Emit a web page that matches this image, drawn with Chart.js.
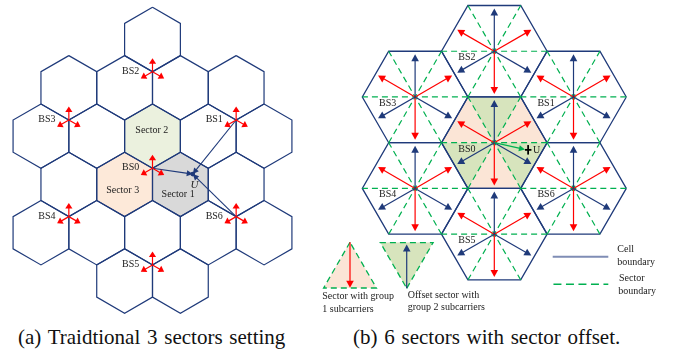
<!DOCTYPE html>
<html>
<head>
<meta charset="utf-8">
<script src="https://cdn.jsdelivr.net/npm/chart.js@4.4.1/dist/chart.umd.min.js"></script>
<style>
  html, body { margin: 0; padding: 0; background: #fff; width: 678px; height: 354px; overflow: hidden; }
  #wrapA { position: absolute; left: 0; top: 0; width: 300px; height: 320px; }
  #wrapB { position: absolute; left: 300px; top: 0; width: 378px; height: 320px; }
  .cap { position: absolute; top: 327px; font-family: 'Liberation Serif', 'Times New Roman', serif;
         font-size: 21px; line-height: 21px; white-space: pre; color: #111; word-spacing: 1.5px; }
</style>
</head>
<body>
<div id="wrapA"><canvas id="chartA"></canvas></div>
<div id="wrapB"><canvas id="chartB"></canvas></div>
<div class="cap" style="left:18px">(a) Traidtional 3 sectors setting</div>
<div class="cap" style="left:353px">(b) 6 sectors with sector offset.</div>
<script>
// ---------- (a) traditional 3-sector layout (pointy-top cells, unit = cell radius) ----------
// cells as [half-column, row]
const cellsA = [
  [0, 0],
  [-3, 1], [-1, 1], [1, 1], [3, 1],
  [-4, 2], [-2, 2], [0, 2], [2, 2], [4, 2],
  [-3, 3], [-1, 3], [1, 3], [3, 3],
  [-4, 4], [-2, 4], [0, 4], [2, 4], [4, 4],
  [-1, 5], [1, 5]
];
const stationNamesA = ['BS0', 'BS1', 'BS2', 'BS3', 'BS4', 'BS5', 'BS6'];
// each base station sits on the bottom corner of this cell
const stationCellsA = [[0, 2], [3, 1], [0, 0], [-3, 1], [-3, 3], [0, 4], [3, 3]];
const sectorNamesA = ['Sector 1', 'Sector 2', 'Sector 3'];
const sectorCellsA = [[1, 3], [0, 2], [-1, 3]];
const antennaDirsA = [90, 210, 330];          // degrees
const userA = [1.25, 1.18];
const userLinksA = ['BS0', 'BS1', 'BS6'];

// ---------- (b) 6 sectors with offset (flat-top cells, unit = cell radius) ----------
const stationNamesB = ['BS0', 'BS1', 'BS2', 'BS3', 'BS4', 'BS5', 'BS6'];
const stationCellsB = [[0, 0], [1, -1], [0, -1], [-1, 0], [-1, 1], [0, 1], [1, 0]]; // axial [q, r]
const group1DirsB = [30, 150, 270];           // sectors with group 1 subcarriers
const group2DirsB = [90, 210, 330];           // offset sectors with group 2 subcarriers
const userB = [0.58, 0.13];
const legendTextsB = [
  ['Sector with group', '1 subcarriers'],
  ['Offset sector with', 'group 2 subcarriers'],
  ['Cell', 'boundary'],
  ['Sector', 'boundary']
];

// ---------- styles ----------
const SQ3 = Math.sqrt(3);
const NAVY = '#1f3a7a', RED = '#ff0000', GREEN = '#00b050', INK = '#222';
const SERIF = "'Liberation Serif','Times New Roman',serif";
const SECTOR_FILL_A = { 'Sector 1': '#d9d9d9', 'Sector 2': '#ebf1de', 'Sector 3': '#fde9d9' };
const FILL_G1 = '#fbe5d6', FILL_G2 = '#d7e4bd';

// ---------- geometry helpers ----------
const rad = d => d * Math.PI / 180;
const centerA = ([c, r]) => ({ x: c * SQ3 / 2, y: (r - 2) * 1.5 });
const stationA = cell => { const c = centerA(cell); return { x: c.x, y: c.y + 1 }; };
const centerB = ([q, r]) => ({ x: 1.5 * q, y: SQ3 * (r + q / 2) });
function hexPointy(c) {
  const pts = [];
  for (let k = 0; k <= 6; k++) { const a = rad(60 * k - 90); pts.push({ x: c.x + Math.cos(a), y: c.y + Math.sin(a) }); }
  return pts;
}
function hexFlat(c) {
  const pts = [];
  for (let k = 0; k <= 6; k++) { const a = rad(60 * k); pts.push({ x: c.x + Math.cos(a), y: c.y + Math.sin(a) }); }
  return pts;
}
// direction in degrees (counter-clockwise, y axis drawn downward)
const toward = (p, deg, len) => ({ x: p.x + len * Math.cos(rad(deg)), y: p.y - len * Math.sin(rad(deg)) });

function px(chart, p) { return [chart.scales.x.getPixelForValue(p.x), chart.scales.y.getPixelForValue(p.y)]; }
function fillPoly(chart, pts, color) {
  const ctx = chart.ctx;
  ctx.save(); ctx.fillStyle = color; ctx.beginPath();
  pts.forEach((p, i) => { const [x, y] = px(chart, p); i ? ctx.lineTo(x, y) : ctx.moveTo(x, y); });
  ctx.closePath(); ctx.fill(); ctx.restore();
}
function strokePoly(chart, pts, color, lw, dash, close) {
  const ctx = chart.ctx;
  ctx.save(); ctx.strokeStyle = color; ctx.lineWidth = lw; ctx.setLineDash(dash || []); ctx.beginPath();
  pts.forEach((p, i) => { const [x, y] = px(chart, p); i ? ctx.lineTo(x, y) : ctx.moveTo(x, y); });
  if (close) ctx.closePath();
  ctx.stroke(); ctx.restore();
}
function arrow(chart, from, to, color, lw, hl, hw) {
  const ctx = chart.ctx;
  const [x1, y1] = px(chart, from), [x2, y2] = px(chart, to);
  const dx = x2 - x1, dy = y2 - y1, L = Math.hypot(dx, dy), ux = dx / L, uy = dy / L;
  const bx = x2 - ux * hl, by = y2 - uy * hl;
  ctx.save(); ctx.strokeStyle = color; ctx.fillStyle = color; ctx.lineWidth = lw; ctx.setLineDash([]);
  ctx.beginPath(); ctx.moveTo(x1, y1); ctx.lineTo(bx + ux, by + uy); ctx.stroke();
  ctx.beginPath(); ctx.moveTo(x2, y2); ctx.lineTo(bx - uy * hw, by + ux * hw); ctx.lineTo(bx + uy * hw, by - ux * hw);
  ctx.closePath(); ctx.fill(); ctx.restore();
}
function text(chart, str, p, opts) {
  const ctx = chart.ctx; const [x, y] = px(chart, p);
  ctx.save(); ctx.font = (opts && opts.font) || ('10px ' + SERIF); ctx.fillStyle = INK;
  ctx.textAlign = (opts && opts.align) || 'center'; ctx.textBaseline = 'middle';
  ctx.fillText(str, x, y); ctx.restore();
}
const lineDs = (pts, color, width, dash) => ({
  data: pts, showLine: true, pointRadius: 0, borderColor: color, borderWidth: width,
  borderDash: dash || [], fill: false, tension: 0, clip: false
});
const baseOptions = (xr, yr) => ({
  responsive: true, maintainAspectRatio: false, animation: false, events: [],
  layout: { padding: 0 },
  plugins: { legend: { display: false }, tooltip: { enabled: false }, title: { display: false } },
  scales: {
    x: { type: 'linear', min: xr[0], max: xr[1], display: false },
    y: { type: 'linear', min: yr[0], max: yr[1], reverse: true, display: false }
  }
});

// ---------- chart (a) ----------
const stationPosA = {};
stationNamesA.forEach((n, i) => { stationPosA[n] = stationA(stationCellsA[i]); });
const sectorOffsetsA = { 'Sector 1': [-0.07, 0.30], 'Sector 2': [-0.02, -0.17], 'Sector 3': [-0.06, 0.17] };

const layerA = {
  id: 'layerA',
  beforeDatasetsDraw(chart) {
    sectorNamesA.forEach((n, i) => fillPoly(chart, hexPointy(centerA(sectorCellsA[i])), SECTOR_FILL_A[n]));
  },
  afterDatasetsDraw(chart) {
    const ctx = chart.ctx;
    const u = { x: userA[0], y: userA[1] };
    // serving and interfering links towards U
    userLinksA.forEach(n => arrow(chart, stationPosA[n], u, NAVY, 1.1, 6, 3));
    const [ux, uy] = px(chart, u);
    ctx.save(); ctx.fillStyle = NAVY; ctx.beginPath(); ctx.arc(ux, uy, 2.4, 0, Math.PI * 2); ctx.fill(); ctx.restore();
    text(chart, 'U', { x: u.x + 0.05, y: u.y + 0.34 }, { font: 'italic 11px ' + SERIF });
    // antenna directions at each site
    stationNamesA.forEach(n => {
      const s = stationPosA[n];
      antennaDirsA.forEach(d => arrow(chart, s, toward(s, d, 0.42), RED, 1.2, 5.5, 3.6));
      text(chart, n, { x: s.x - 0.68, y: s.y - 0.02 });
    });
    sectorNamesA.forEach((n, i) => {
      const c = centerA(sectorCellsA[i]);
      text(chart, n, { x: c.x + sectorOffsetsA[n][0], y: c.y + sectorOffsetsA[n][1] });
    });
  }
};

new Chart(document.getElementById('chartA'), {
  type: 'scatter',
  data: { datasets: cellsA.map(c => lineDs(hexPointy(centerA(c)), NAVY, 1.2)) },
  options: baseOptions([-4.736, 4.581], [-4.227, 5.711]),
  plugins: [layerA]
});

// ---------- chart (b) ----------
const stationPosB = {};
stationNamesB.forEach((n, i) => { stationPosB[n] = centerB(stationCellsB[i]); });
const sectorTri = (c, midDeg) => [c, toward(c, midDeg - 30, 1), toward(c, midDeg + 30, 1)];

const cellDatasetsB = [];
stationCellsB.forEach(cell => {
  const c = centerB(cell);
  const v = hexFlat(c);
  for (let k = 0; k < 3; k++) cellDatasetsB.push(lineDs([v[k], v[k + 3]], GREEN, 1.2, [6, 4]));
});
stationCellsB.forEach(cell => cellDatasetsB.push(lineDs(hexFlat(centerB(cell)), NAVY, 1.3)));

const layerB = {
  id: 'layerB',
  beforeDatasetsDraw(chart) {
    const c0 = stationPosB['BS0'];
    group1DirsB.forEach(d => fillPoly(chart, sectorTri(c0, d), FILL_G1));
    group2DirsB.forEach(d => fillPoly(chart, sectorTri(c0, d), FILL_G2));
  },
  afterDatasetsDraw(chart) {
    const ctx = chart.ctx;
    stationNamesB.forEach(n => {
      const s = stationPosB[n];
      group1DirsB.forEach(d => arrow(chart, s, toward(s, d, 0.81), RED, 1.2, 7, 3.8));
      group2DirsB.forEach(d => arrow(chart, s, toward(s, d, 0.81), NAVY, 1.2, 7, 3.8));
      text(chart, n, { x: s.x - 0.52, y: s.y + 0.12 });
    });
    // user U served by BS0
    const s0 = stationPosB['BS0'];
    const u = { x: userB[0], y: userB[1] };
    arrow(chart, s0, u, GREEN, 1.3, 6, 3.2);
    const [ux, uy] = px(chart, u);
    ctx.save(); ctx.strokeStyle = '#000'; ctx.lineWidth = 1.8;
    ctx.beginPath(); ctx.moveTo(ux + 3.2, uy - 4.5); ctx.lineTo(ux + 3.2, uy + 5); ctx.stroke();
    ctx.beginPath(); ctx.moveTo(ux, uy + 0.3); ctx.lineTo(ux + 6.5, uy + 0.3); ctx.stroke();
    ctx.restore();
    text(chart, 'U', { x: u.x + 0.22, y: u.y + 0.01 }, { align: 'center', font: '10px ' + SERIF });

    // key: sector glyphs
    const k1 = { x: -2.733, y: 1.886 };
    const t1 = sectorTri(k1, 270);
    fillPoly(chart, t1, FILL_G1);
    strokePoly(chart, t1, GREEN, 1.3, [6, 4], true);
    arrow(chart, k1, toward(k1, 270, 0.86), RED, 1.2, 7, 3.8);
    const k2 = { x: -1.659, y: 2.758 };
    const t2 = sectorTri(k2, 90);
    fillPoly(chart, t2, FILL_G2);
    strokePoly(chart, t2, GREEN, 1.3, [6, 4], true);
    arrow(chart, k2, toward(k2, 90, 0.83), NAVY, 1.2, 7, 3.8);
    text(chart, legendTextsB[0][0], { x: -3.258, y: 2.917 }, { align: 'left' });
    text(chart, legendTextsB[0][1], { x: -3.258, y: 3.155 }, { align: 'left' });
    text(chart, legendTextsB[1][0], { x: -1.640, y: 2.898 }, { align: 'left' });
    text(chart, legendTextsB[1][1], { x: -1.640, y: 3.125 }, { align: 'left' });
    // key: boundary lines
    strokePoly(chart, [{ x: 1.106, y: 2.159 }, { x: 2.159, y: 2.159 }], '#7f8db5', 2, []);
    strokePoly(chart, [{ x: 1.12, y: 2.682 }, { x: 2.159, y: 2.682 }], GREEN, 1.6, [8, 4.5]);
    text(chart, legendTextsB[2][0], { x: 2.330, y: 2.019 }, { align: 'left' });
    text(chart, legendTextsB[2][1], { x: 2.330, y: 2.273 }, { align: 'left' });
    text(chart, legendTextsB[3][0], { x: 2.362, y: 2.568 }, { align: 'left' });
    text(chart, legendTextsB[3][1], { x: 2.349, y: 2.809 }, { align: 'left' });
  }
};

new Chart(document.getElementById('chartB'), {
  type: 'scatter',
  data: { datasets: cellDatasetsB },
  options: baseOptions([-3.680, 3.479], [-2.7027, 3.358]),
  plugins: [layerB]
});
</script>
</body>
</html>
